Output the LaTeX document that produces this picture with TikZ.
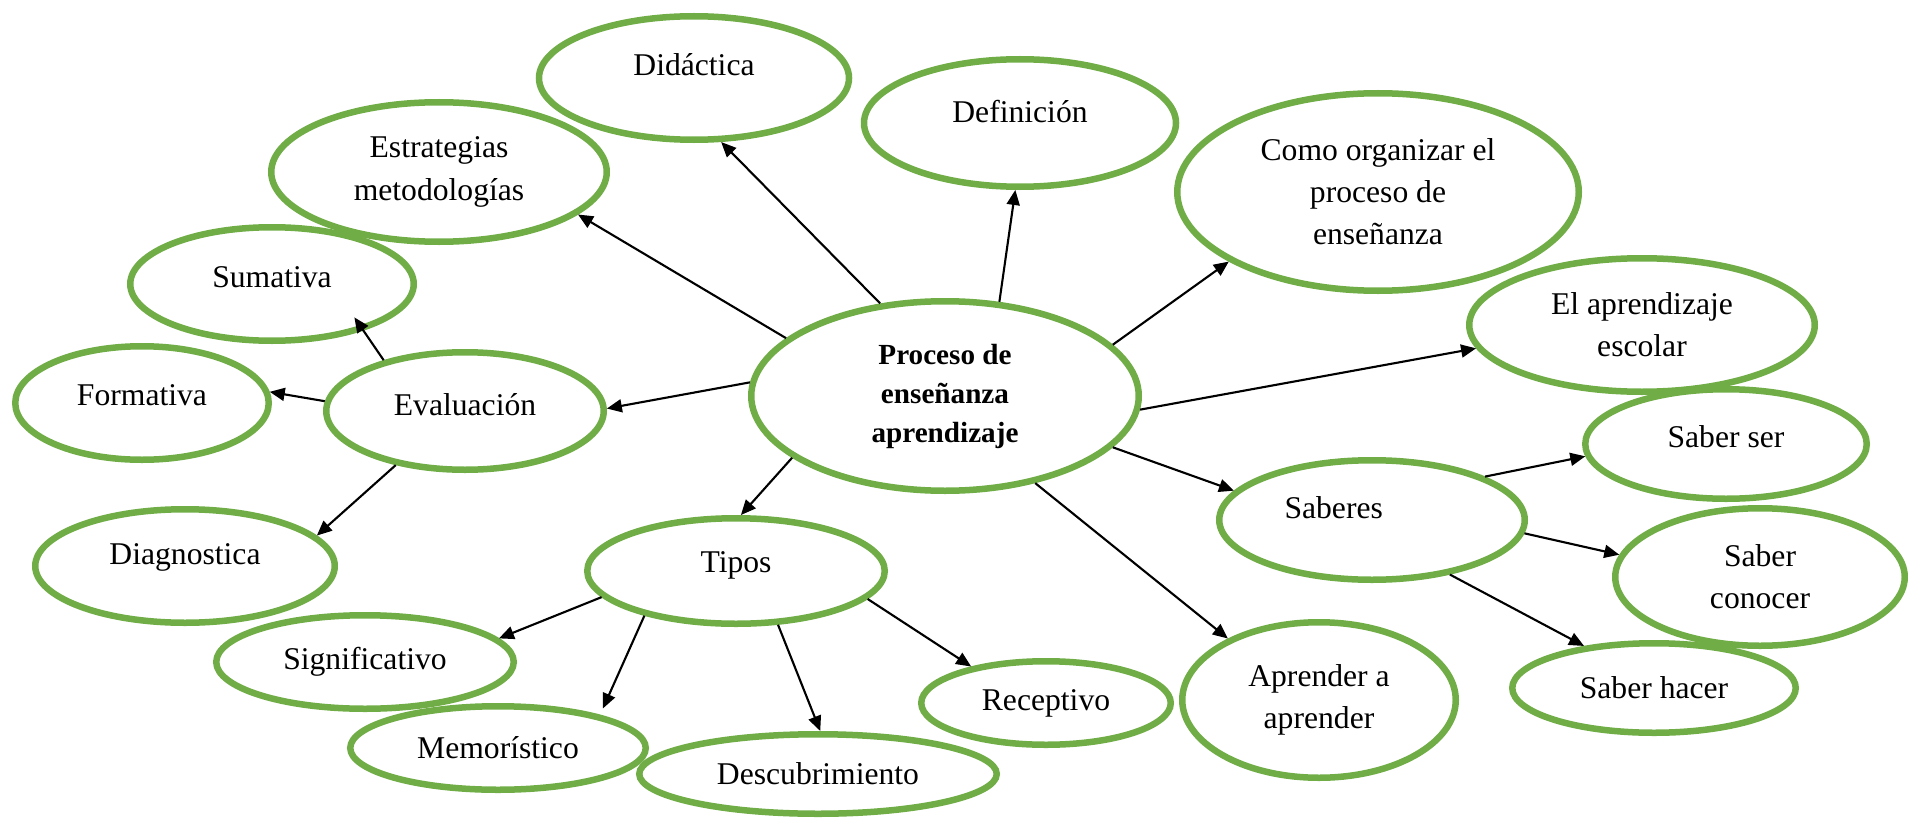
\documentclass[tikz,border=0pt]{standalone}
\usepackage{fontspec}
\setmainfont{Liberation Serif}
\usetikzlibrary{shapes.geometric,arrows.meta}
\definecolor{leafGreen}{HTML}{70AD47}
\newcommand\liftText[2]{\raisebox{0pt}[\height][\dimexpr\depth+#1\relax]{#2}}

\begin{document}
\begin{tikzpicture}
[lineDecorate/.style={-{Triangle[length=0.15cm,width=0.13cm]},line width=0.6pt},%
  nodeDecorate/.style={shape=ellipse,inner sep=0pt,draw=leafGreen,line width=1.85pt,
    align=center,font=\fontsize{9}{12}\selectfont},
  scale=1]
\useasboundingbox (0,0) rectangle (19.08,8.19);
%% central node
\node (main) at (9.45,4.23) [nodeDecorate,minimum width=3.875cm,minimum height=1.895cm,
  font=\bfseries\fontsize{8.3}{11.1}\selectfont] {Proceso de\\enseñanza\\aprendizaje};
%% nodes or vertices
\foreach \nodename/\x/\y/\w/\h/\txt in {
  didactica/6.94/7.41/3.10/1.235/{\liftText{0.26cm}{Didáctica}},
  definicion/10.20/6.96/3.12/1.275/{\liftText{0.22cm}{Definición}},
  estrategias/4.39/6.47/3.355/1.395/{Estrategias\\metodologías},
  como/13.78/6.27/4.015/1.975/{Como organizar el\\proceso de\\enseñanza},
  sumativa/2.72/5.35/2.835/1.135/{\liftText{0.14cm}{Sumativa}},
  aprendizaje/16.42/4.94/3.455/1.335/{El aprendizaje\\escolar},
  formativa/1.42/4.16/2.535/1.135/{\liftText{0.16cm}{Formativa}},
  evaluacion/4.65/4.08/2.775/1.175/{\liftText{0.12cm}{Evaluación}},
  saberser/17.26/3.75/2.815/1.095/{\liftText{0.14cm}{Saber ser}},
  saberes/13.72/2.99/3.055/1.195/{\liftText{0.24cm}{\makebox[1.75cm][l]{Saberes}}},
  diagnostica/1.85/2.53/2.995/1.135/{\liftText{0.18cm}{Diagnostica}},
  saberconocer/17.60/2.42/2.895/1.375/{Saber\\conocer},
  tipos/7.36/2.48/2.975/1.055/{\liftText{0.12cm}{Tipos}},
  significativo/3.65/1.57/2.975/0.935/{Significativo},
  saberhacer/16.54/1.31/2.835/0.895/{Saber hacer},
  receptivo/10.46/1.16/2.495/0.835/{Receptivo},
  aprender/13.19/1.19/2.735/1.555/{Aprender a\\aprender},
  memoristico/4.98/0.71/2.955/0.835/{Memorístico},
  descubrimiento/8.18/0.45/3.575/0.795/{Descubrimiento}}
{
  \node (\nodename) at (\x,\y) [nodeDecorate,minimum width=\w cm,minimum height=\h cm] {\txt};
}
%% edges or lines
\path
\foreach \startnode/\endnode in {
  main.125/didactica.-67, main.160/estrategias.-17, main.60/definicion.-94,
  main.17/como.-155, main.-4/aprendizaje.-172, main.176/evaluacion.1,
  main.-158/tipos.85, main.-17/saberes.168, main.-44/aprender.146,
  evaluacion.176/formativa.5, evaluacion.-142/diagnostica.13,
  tipos.-169/significativo.10, tipos.-52/descubrimiento.87,
  tipos.-12/receptivo.154, saberes.21/saberser.-175,
  saberes.-5/saberconocer.171, saberes.-35/saberhacer.149}
{
  (\startnode) edge[lineDecorate] (\endnode)
};
\draw[lineDecorate,shorten >=-0.16cm] (evaluacion.148) -- (sumativa.-27);
\draw[lineDecorate,shorten >=0.07cm] (tipos.-154) -- (memoristico.18);
\end{tikzpicture}
\end{document}
